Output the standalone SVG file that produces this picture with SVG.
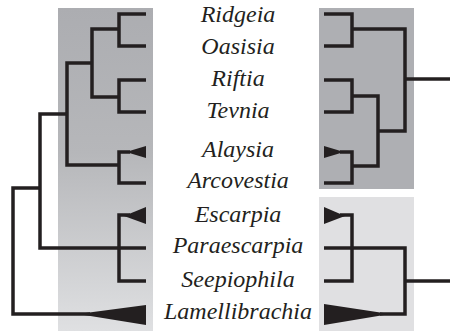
<svg xmlns="http://www.w3.org/2000/svg" width="450" height="331" viewBox="0 0 450 331">
<defs>
<linearGradient id="lg" x1="0" y1="0" x2="0" y2="1">
<stop offset="0" stop-color="#acadb1"/>
<stop offset="0.45" stop-color="#b6b7ba"/>
<stop offset="1" stop-color="#dfe0e2"/>
</linearGradient>
<style>
.ln{fill:none;stroke:#231f20;stroke-width:3.5;stroke-linejoin:miter}
.tri{fill:#231f20}
.lb{font-family:"Liberation Serif","Times New Roman",serif;font-style:italic;font-size:24px;fill:#231f20;text-anchor:middle}
</style>
</defs>
<rect width="450" height="331" fill="#ffffff"/>
<g id="panels">
<rect x="58" y="8" width="95" height="323" fill="url(#lg)"/>
<rect x="319" y="8" width="95" height="181" fill="#aeafb3"/>
<rect x="319" y="197" width="95" height="134" fill="#e0e0e2"/>
</g>
<g id="connectors">
<path class="ln" d="M146,14 H119 V46 H146"/>
<path class="ln" d="M119,29 H92 V97 H119"/>
<path class="ln" d="M146,80 H119 V112 H146"/>
<path class="ln" d="M92,63 H67 V165 H119"/>
<path class="ln" d="M130,152 H119 V183 H146"/>
<path class="ln" d="M67,114 H40 V248 H146"/>
<path class="ln" d="M130,215 H119 V281 H146"/>
<path class="ln" d="M40,188 H13 V314 H90"/>
<path class="ln" d="M324,14 H352 V46 H324"/>
<path class="ln" d="M352,29 H405 V131 H378"/>
<path class="ln" d="M324,80 H352 V112 H324"/>
<path class="ln" d="M352,96 H378 V166 H352"/>
<path class="ln" d="M340,152 H352 V183 H324"/>
<path class="ln" d="M405,79 H450"/>
<path class="ln" d="M340,215 H352 V281 H324"/>
<path class="ln" d="M324,248 H405 V314 H380"/>
<path class="ln" d="M405,281 H450"/>
<polygon class="tri" points="126,152 146,146 146,158"/>
<polygon class="tri" points="124,216 146,207 146,224"/>
<polygon class="tri" points="78,314 146,305 146,325"/>
<polygon class="tri" points="324,146 324,158 344,152"/>
<polygon class="tri" points="324,207 324,224 345,216"/>
<polygon class="tri" points="324,304 324,325 390,314"/>
</g>
<g id="ridgeia"><text class="lb" x="238" y="22">Ridgeia</text></g>
<g id="oasisia"><text class="lb" x="238" y="54">Oasisia</text></g>
<g id="riftia"><text class="lb" x="238" y="86">Riftia</text></g>
<g id="tevnia"><text class="lb" x="238" y="118">Tevnia</text></g>
<g id="alaysia"><text class="lb" x="238" y="157">Alaysia</text></g>
<g id="arcovestia"><text class="lb" x="238" y="188">Arcovestia</text></g>
<g id="escarpia"><text class="lb" x="238" y="222">Escarpia</text></g>
<g id="paraescarpia"><text class="lb" x="238" y="253">Paraescarpia</text></g>
<g id="seepiophila"><text class="lb" x="238" y="287">Seepiophila</text></g>
<g id="lamellibrachia"><text class="lb" x="238" y="319">Lamellibrachia</text></g>
</svg>
